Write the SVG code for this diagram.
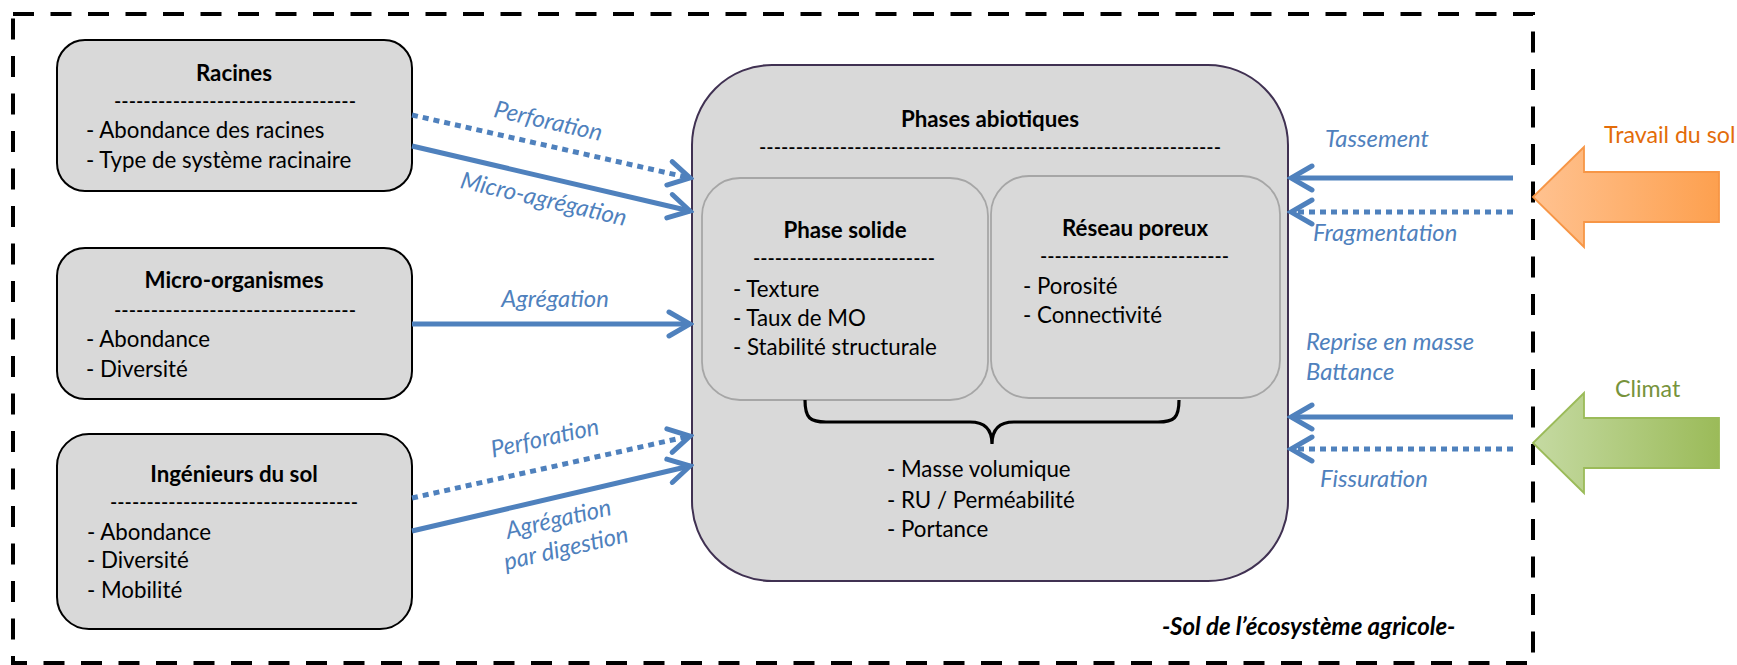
<svg xmlns="http://www.w3.org/2000/svg" width="1737" height="665" viewBox="0 0 1737 665">
<style>
.box{fill:#d9d9d9;stroke:#000;stroke-width:2}
.main{fill:#d9d9d9;stroke:#403152;stroke-width:2}
.inner{fill:#d9d9d9;stroke:#a6a6a6;stroke-width:1.8}
text{font-family:Lato,"Liberation Sans",sans-serif;font-size:22.3px;fill:#000}
.t{font-weight:bold;text-anchor:middle}
.lbl{font-style:italic;fill:#4f81bd;font-size:23.8px}
.conn{stroke:#4f81bd;stroke-width:5;fill:none}
.dot{stroke-dasharray:6 5}
</style>
<defs>
<marker id="ah" viewBox="-26 -15 30 30" refX="0" refY="0" markerWidth="30" markerHeight="30" markerUnits="userSpaceOnUse" orient="auto">
<path d="M-21,-12 L0,0 L-21,12" fill="none" stroke="#4f81bd" stroke-width="5" stroke-dasharray="none" stroke-linecap="round" stroke-linejoin="miter"/>
</marker>
<linearGradient id="gO" x1="0" x2="1" y1="0" y2="0"><stop offset="0" stop-color="#ffc290"/><stop offset="1" stop-color="#fda04f"/></linearGradient>
<linearGradient id="gG" x1="0" x2="1" y1="0" y2="0"><stop offset="0" stop-color="#c5daa2"/><stop offset="1" stop-color="#9bbb59"/></linearGradient>
</defs>

<rect id="frame" x="13" y="14" width="1520" height="649" fill="none" stroke="#000" stroke-width="4" stroke-dasharray="21 16.5"/>

<g id="racines">
<rect class="box" x="57" y="40" width="355" height="151" rx="28"/>
<text class="t" x="234" y="81">Racines</text>
<text x="114" y="109" textLength="242" lengthAdjust="spacingAndGlyphs">---------------------------------</text>
<text x="86" y="138">- Abondance des racines</text>
<text x="86" y="168">- Type de système racinaire</text>
</g>

<g id="micro">
<rect class="box" x="57" y="248" width="355" height="151" rx="28"/>
<text class="t" x="234" y="288">Micro-organismes</text>
<text x="114" y="318" textLength="242" lengthAdjust="spacingAndGlyphs">---------------------------------</text>
<text x="86" y="347">- Abondance</text>
<text x="86" y="377">- Diversité</text>
</g>

<g id="ingenieurs">
<rect class="box" x="57" y="434" width="355" height="195" rx="32"/>
<text class="t" x="234" y="482">Ingénieurs du sol</text>
<text x="110" y="510" textLength="248" lengthAdjust="spacingAndGlyphs">----------------------------------</text>
<text x="87" y="540">- Abondance</text>
<text x="87" y="568">- Diversité</text>
<text x="87" y="598">- Mobilité</text>
</g>

<g id="phases">
<rect class="main" x="692" y="65" width="596" height="516" rx="80"/>
<text class="t" x="990" y="127">Phases abiotiques</text>
<text x="759" y="155" textLength="462" lengthAdjust="spacingAndGlyphs">---------------------------------------------------------------</text>
<g id="solide">
<rect class="inner" x="702" y="178" width="286" height="222" rx="38"/>
<text class="t" x="845" y="238">Phase solide</text>
<text x="753" y="266" textLength="182" lengthAdjust="spacingAndGlyphs">-------------------------</text>
<text x="733" y="297">- Texture</text>
<text x="733" y="326">- Taux de MO</text>
<text x="733" y="355">- Stabilité structurale</text>
</g>
<g id="poreux">
<rect class="inner" x="991" y="176" width="289" height="222" rx="38"/>
<text class="t" x="1135" y="236">Réseau poreux</text>
<text x="1040" y="264" textLength="189" lengthAdjust="spacingAndGlyphs">--------------------------</text>
<text x="1023" y="294">- Porosité</text>
<text x="1023" y="323">- Connectivité</text>
</g>
<path d="M805,400 C805,418 810,422 826,422 L970,422 C985,422 992,430 992,444 C992,430 999,422 1014,422 L1158,422 C1174,422 1179,418 1179,400" fill="none" stroke="#000" stroke-width="3.2"/>
<text x="887" y="477">- Masse volumique</text>
<text x="887" y="508">- RU / Perméabilité</text>
<text x="887" y="537">- Portance</text>
</g>

<g id="travail">
<polygon points="1533,197 1584,147 1584,172 1719,172 1719,222 1584,222 1584,247" fill="url(#gO)" stroke="#f79646" stroke-width="1.8"/>
<text x="1604" y="143" style="fill:#e36c09;font-size:23.2px">Travail du sol</text>
</g>
<g id="climat">
<polygon points="1533,443 1584,393 1584,418 1719,418 1719,468 1584,468 1584,493" fill="url(#gG)" stroke="#9bbb59" stroke-width="1.8"/>
<text x="1615" y="397" style="fill:#77933c;font-size:23.2px">Climat</text>
</g>

<g id="connectors">
<line class="conn dot" x1="412" y1="115" x2="690" y2="178" marker-end="url(#ah)"/>
<line class="conn" x1="412" y1="146" x2="690" y2="211" marker-end="url(#ah)"/>
<line class="conn" x1="412" y1="324" x2="690" y2="324" marker-end="url(#ah)"/>
<line class="conn dot" x1="412" y1="498" x2="690" y2="436" marker-end="url(#ah)"/>
<line class="conn" x1="412" y1="531" x2="690" y2="466" marker-end="url(#ah)"/>
<line class="conn" x1="1513" y1="178" x2="1291" y2="178" marker-end="url(#ah)"/>
<line class="conn dot" x1="1513" y1="212" x2="1291" y2="212" marker-end="url(#ah)"/>
<line class="conn" x1="1513" y1="417" x2="1291" y2="417" marker-end="url(#ah)"/>
<line class="conn dot" x1="1513" y1="449" x2="1291" y2="449" marker-end="url(#ah)"/>
<text class="lbl" x="548" y="129" text-anchor="middle" transform="rotate(12.7 548 122)">Perforation</text>
<text class="lbl" x="543" y="207" text-anchor="middle" transform="rotate(13.1 543 202)">Micro-agrégation</text>
<text class="lbl" x="555" y="307" text-anchor="middle">Agrégation</text>
<text class="lbl" x="545" y="446" text-anchor="middle" transform="rotate(-12.5 545 439)">Perforation</text>
<text class="lbl" x="559" y="527" text-anchor="middle" transform="rotate(-13 559 522)">Agrégation</text>
<text class="lbl" x="567" y="556" text-anchor="middle" transform="rotate(-13 567 552)">par digestion</text>
<text class="lbl" x="1325" y="147">Tassement</text>
<text class="lbl" x="1313" y="241">Fragmentation</text>
<text class="lbl" x="1306" y="350">Reprise en masse</text>
<text class="lbl" x="1306" y="380">Battance</text>
<text class="lbl" x="1320" y="487">Fissuration</text>
</g>

<text x="1162" y="635" style="font-weight:bold;font-style:italic;font-size:24px">-Sol de l’écosystème agricole-</text>
</svg>
